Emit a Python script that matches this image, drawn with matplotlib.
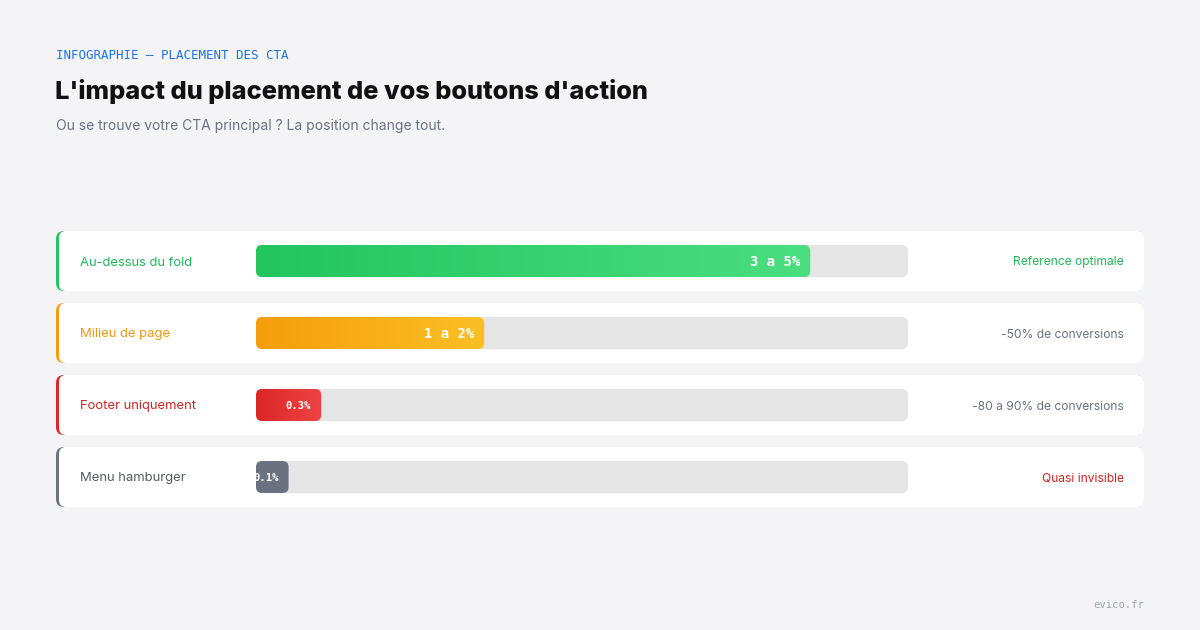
import numpy as np
import matplotlib
matplotlib.use("Agg")
import matplotlib.pyplot as plt
from matplotlib.patches import FancyBboxPatch
from matplotlib.colors import LinearSegmentedColormap

# data
categories = ["Au-dessus du fold", "Milieu de page", "Footer uniquement", "Menu hamburger"]
bar_widths = [85, 35, 10, 5]          # fill, % of the track
value_labels = ["3 a 5%", "1 a 2%", "0.3%", "0.1%"]
impact_labels = ["Reference optimale", "-50% de conversions", "-80 a 90% de conversions", "Quasi invisible"]

# style
accent = ["#22c55e", "#f59e0b", "#dc2626", "#6b7280"]
grad_end = ["#4ade80", "#fbbf24", "#ef4444", "#6b7280"]
label_colors = ["#22b45a", "#eb980f", "#cc2424", "#55595f"]
impact_colors = ["#22b45a", "#6b7280", "#6b7280", "#cc2424"]
value_sizes = [10, 10, 7.6, 7.6]
BG = "#f4f4f6"
W, H = 1200, 630

fig = plt.figure(figsize=(12, 6.3), dpi=100)
fig.patch.set_facecolor(BG)

# background axes in pixel coords (layout only)
bg = fig.add_axes([0, 0, 1, 1])
bg.set_xlim(0, W)
bg.set_ylim(H, 0)
bg.axis("off")

bg.text(56, 55.5, "INFOGRAPHIE \u2014 PLACEMENT DES CTA", fontsize=9.0, family="DejaVu Sans Mono",
        color="#1a73e8", va="center", ha="left")
bg.text(55, 91, "L'impact du placement de vos boutons d'action", fontsize=18.3, family="Inter",
        weight="heavy", color="#111111", va="center", ha="left")
bg.text(56, 126, "Ou se trouve votre CTA principal ? La position change tout.", fontsize=10.0,
        family="Inter", color="#6b7280", va="center", ha="left")
bg.text(1144, 604.5, "evico.fr", fontsize=7.6, family="DejaVu Sans Mono", color="#9ca3af",
        va="center", ha="right")

row_top, row_step, card_h = 231, 72, 60
for i, cat in enumerate(categories):
    y0 = row_top + i * row_step
    yc = y0 + card_h / 2 + 1.5
    # accent border + card
    bg.add_patch(FancyBboxPatch((56, y0), 1088, card_h, boxstyle="round,pad=0,rounding_size=8",
                                fc=accent[i], ec="none", zorder=1))
    bg.add_patch(FancyBboxPatch((59, y0), 1085, card_h, boxstyle="round,pad=0,rounding_size=7",
                                fc="white", ec="none", zorder=2))
    bg.text(80, yc, cat, fontsize=9.4, family="Inter", color=label_colors[i],
            va="center", ha="left", zorder=3)
    bg.text(1124, yc, impact_labels[i], fontsize=8.7, family="Inter", color=impact_colors[i],
            va="center", ha="right", zorder=3)

# bar axes: x in % of track, one row per category
x0_px, x1_px = 256, 908
ax = fig.add_axes([x0_px / W, 1 - (row_top - 6 + 4 * row_step) / H, (x1_px - x0_px) / W, 4 * row_step / H])
ax.set_xlim(0, 100)
ax.set_ylim(3.5, -0.5)
ax.axis("off")
ax.patch.set_alpha(0)

px_x = (x1_px - x0_px) / 100.0
px_y = row_step
aspect = px_x / px_y
r = 6 / px_x
bar_h = 32 / px_y

for i, w in enumerate(bar_widths):
    track = FancyBboxPatch((0, i - bar_h / 2), 100, bar_h,
                           boxstyle="round,pad=0,rounding_size=%f" % r,
                           mutation_aspect=aspect, fc="#e5e5e5", ec="none", zorder=1)
    ax.add_patch(track)
    fill = FancyBboxPatch((0, i - bar_h / 2), w, bar_h,
                          boxstyle="round,pad=0,rounding_size=%f" % r,
                          mutation_aspect=aspect, fc="none", ec="none", zorder=2)
    ax.add_patch(fill)
    cmap = LinearSegmentedColormap.from_list("g%d" % i, [accent[i], grad_end[i]])
    im = ax.imshow(np.linspace(0, 1, 256).reshape(1, -1), cmap=cmap, aspect="auto",
                   extent=(0, w, i + bar_h / 2, i - bar_h / 2), zorder=2, interpolation="bilinear")
    im.set_clip_path(fill)
    t = ax.text(w - 10 / px_x, i + 1 / px_y, value_labels[i], fontsize=value_sizes[i], family="DejaVu Sans Mono",
                weight="bold", color="white", va="center", ha="right", zorder=3)
    t.set_clip_path(fill)

ax.set_xlim(0, 100)
ax.set_ylim(3.5, -0.5)

fig.savefig("out.png", dpi=100, facecolor=BG)
